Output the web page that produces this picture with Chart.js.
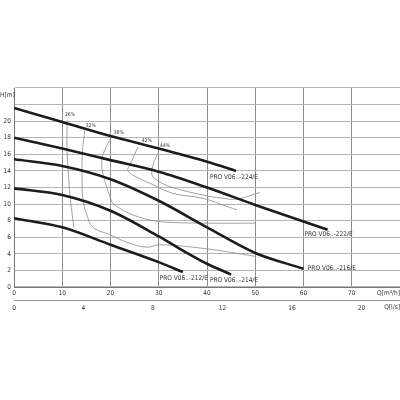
<!DOCTYPE html>
<html>
<head>
<meta charset="utf-8">
<script src="https://cdn.jsdelivr.net/npm/chart.js@4.4.0/dist/chart.umd.min.js"></script>
<style>
html,body{margin:0;padding:0;background:#fff;}
#c{display:block;}
</style>
</head>
<body>
<canvas id="c" width="400" height="400"></canvas>
<script>
// ---- pump curves (Q in m3/h, H in m)
const q224 = [0, 10, 20, 30, 40, 46];
const h224 = [21.6, 19.9, 18.2, 16.7, 15.1, 14.0];
const q222 = [0, 10, 20, 30, 40, 50, 60, 65];
const h222 = [18.0, 16.7, 15.3, 13.9, 12.0, 9.9, 7.9, 6.9];
const q216 = [0, 10, 20, 30, 40, 50, 60];
const h216 = [15.4, 14.6, 13.0, 10.4, 7.2, 4.1, 2.2];
const q214 = [0, 10, 20, 30, 35, 40, 45];
const h214 = [11.9, 11.1, 9.2, 6.1, 4.4, 2.8, 1.5];
const q212 = [0, 10, 20, 30, 35];
const h212 = [8.3, 7.2, 5.1, 3.0, 1.8];

// ---- efficiency curves
const qE26 = [11.0, 11.0, 11.3, 11.6, 12.4];
const hE26 = [20.1, 16.5, 13.5, 11.1, 7.2];
const qE32 = [14.7, 14.2, 14.1, 14.3, 15.1, 16.4, 19.9, 23.4, 27.5, 30.2, 40, 50];
const hE32 = [18.9, 16.5, 13.5, 10.5, 8.7, 7.2, 6.3, 5.4, 4.8, 5.1, 4.6, 3.7];
const qE38 = [20.2, 18.8, 18.2, 18.4, 19.2, 19.9, 20.5, 21.9, 24.6, 28.8, 32.3, 40, 50];
const hE38 = [18.1, 16.5, 15.1, 13.7, 12.1, 10.9, 10.1, 9.5, 8.7, 8.0, 7.8, 7.7, 7.7];
const qE42 = [25.7, 24.0, 23.6, 24.6, 28.2, 32.9, 39.1, 44.7, 46.2];
const hE42 = [16.9, 14.7, 14.1, 13.5, 12.5, 11.3, 10.7, 9.6, 9.3];
const qE44 = [29.8, 28.8, 28.6, 29.6, 32.3, 39.1, 43.3, 46.2, 50.9];
const hE44 = [16.1, 14.7, 13.5, 12.9, 12.1, 11.1, 10.7, 10.6, 11.4];

// ---- labels
const pumpNames = ["PRO V06..-224/E", "PRO V06..-222/E", "PRO V06..-216/E", "PRO V06..-214/E", "PRO V06..-212/E"];
const pumpLabelQ = [40.6, 60.2, 60.9, 40.6, 30.2];
const pumpLabelH = [13.25, 6.4, 2.3, 0.85, 1.1];
const effNames = ["26%", "32%", "38%", "42%", "44%"];
const effLabelQ = [11.6, 15.9, 21.7, 27.5, 31.3];
const effLabelH = [20.8, 19.4, 18.55, 17.6, 17.0];

const xTicksMax = 80;
const yTicksMax = 24;
const lsFactor = 3.6;

const pts = (q, h) => q.map((v, i) => ({x: v, y: h[i]}));
const FONT = "'DejaVu Sans Condensed', 'DejaVu Sans', sans-serif";

function pump(q, h) {
  return {data: pts(q, h), borderColor: '#1c1c1c', borderWidth: 2.6, pointRadius: 0,
    cubicInterpolationMode: 'monotone', fill: false};
}
function eff(q, h) {
  return {data: pts(q, h), borderColor: '#8a8a8a', borderWidth: 0.8, pointRadius: 0,
    tension: 0.4, fill: false};
}

const textPlugin = {
  id: 'texts',
  afterDraw(chart) {
    const ctx = chart.ctx, xs = chart.scales.x, ys = chart.scales.y;
    ctx.save();
    ctx.fillStyle = '#333';
    ctx.textBaseline = 'middle';
    ctx.font = '6.5px ' + FONT;
    ctx.textAlign = 'left';
    pumpNames.forEach((n, i) => {
      ctx.fillText(n, xs.getPixelForValue(pumpLabelQ[i]), ys.getPixelForValue(pumpLabelH[i]));
    });
    ctx.font = '5px ' + FONT;
    ctx.textAlign = 'center';
    effNames.forEach((n, i) => {
      ctx.fillText(n, xs.getPixelForValue(effLabelQ[i]), ys.getPixelForValue(effLabelH[i]));
    });
    ctx.font = '6.5px ' + FONT;
    ctx.textAlign = 'left';
    ctx.fillText('H[m]', 0, 95);
    ctx.textAlign = 'right';
    ctx.fillText('Q[m³/h]', 400, 293);
    ctx.fillText('Q[l/s]', 400, 307.5);
    ctx.restore();
  }
};

const noPad = s => { s.paddingLeft = 0; s.paddingRight = 0; };

new Chart(document.getElementById('c'), {
  type: 'line',
  data: {
    datasets: [
      pump(q224, h224), pump(q222, h222), pump(q216, h216), pump(q214, h214), pump(q212, h212),
      eff(qE26, hE26), eff(qE32, hE32), eff(qE38, hE38), eff(qE42, hE42), eff(qE44, hE44)
    ]
  },
  options: {
    responsive: false,
    animation: false,
    layout: {padding: {top: 88, left: 0, right: 0, bottom: 0}},
    plugins: {legend: {display: false}, tooltip: {enabled: false}},
    scales: {
      x: {
        type: 'linear', min: 0, max: xTicksMax, position: 'bottom', weight: 0,
        ticks: {stepSize: 10, font: {size: 6.5, family: FONT}, color: '#333', padding: 2,
          maxRotation: 0, autoSkip: false, callback: v => (v >= xTicksMax ? '' : v)},
        grid: {color: '#8c8c8c', lineWidth: 1, drawTicks: false},
        border: {color: '#777', width: 1},
        afterFit: s => { s.height = 13; noPad(s); }
      },
      x2: {
        type: 'linear', min: 0, max: xTicksMax / lsFactor, position: 'bottom', weight: 1,
        ticks: {stepSize: 4, includeBounds: false, font: {size: 6.5, family: FONT}, color: '#333', padding: 4,
          maxRotation: 0, autoSkip: false, callback: v => (v > 21 ? '' : v)},
        grid: {display: false, drawTicks: false},
        border: {display: true, color: '#999', width: 1},
        afterFit: s => { s.height = 100; noPad(s); }
      },
      y: {
        type: 'linear', min: 0, max: yTicksMax, position: 'left',
        ticks: {stepSize: 2, font: {size: 6.5, family: FONT}, color: '#333', padding: 3,
          autoSkip: false, callback: v => (v >= 22 ? '' : v)},
        grid: {color: '#b4b4b4', lineWidth: 1.1, drawTicks: false},
        border: {color: '#777', width: 1},
        afterFit: s => { s.width = 14; s.paddingTop = 0; s.paddingBottom = 0; }
      }
    }
  },
  plugins: [textPlugin]
});
</script>
</body>
</html>
